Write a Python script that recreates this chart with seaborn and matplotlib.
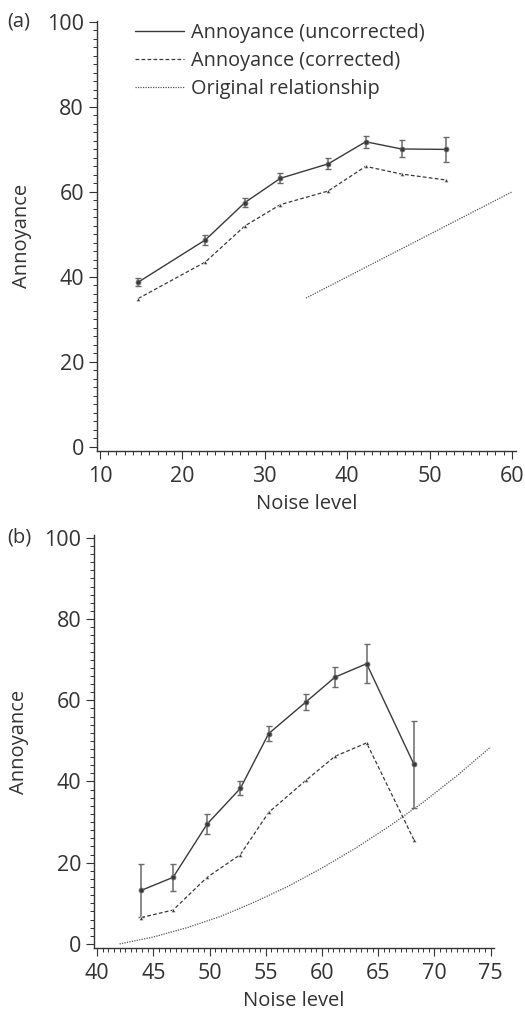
import numpy as np
import pandas as pd
import matplotlib
matplotlib.use("Agg")
import matplotlib.pyplot as plt
from matplotlib.lines import Line2D
from matplotlib.ticker import MultipleLocator
import seaborn as sns

# panel (a)
a_noise = [14.65, 22.8, 27.6, 31.9, 37.7, 42.25, 46.6, 52.0]
a_uncorr = [38.75, 48.7, 57.5, 63.2, 66.6, 71.8, 70.1, 70.0]
a_uncorr_err = [0.9, 1.2, 1.0, 1.2, 1.3, 1.4, 2.0, 3.0]
a_corr = [34.9, 43.5, 52.0, 57.0, 60.2, 66.0, 64.2, 62.8]
a_orig_x = [35, 60]
a_orig_y = [35, 60]

# panel (b)
b_noise = [43.94, 46.76, 49.78, 52.74, 55.26, 58.58, 61.16, 63.97, 68.18]
b_uncorr = [13.2, 16.4, 29.5, 38.3, 51.8, 59.6, 65.7, 69.0, 44.2]
b_uncorr_err = [6.5, 3.3, 2.5, 1.7, 1.8, 2.0, 2.5, 4.8, 10.7]
b_corr = [6.5, 8.35, 16.4, 22.0, 32.4, 40.3, 46.2, 49.5, 25.6]
b_orig_x = [42, 45, 48, 51, 54, 57, 60, 63, 66, 69, 72, 75]
b_orig_y = [0, 1.7, 4.0, 6.8, 10.3, 14.2, 18.7, 23.6, 29.0, 34.9, 41.4, 48.5]

legend_labels = ["Annoyance (uncorrected)", "Annoyance (corrected)", "Original relationship"]

sns.set_style("ticks")
plt.rcParams["font.family"] = ["Open Sans", "DejaVu Sans"]
ink = "#333333"
plt.rcParams.update({
    "text.color": ink, "axes.labelcolor": ink, "xtick.color": ink, "ytick.color": ink,
    "axes.edgecolor": ink, "font.size": 14,
})

DASHED = (0, (3, 1.8))
DOTTED = (0, (1, 1))


def draw_panel(ax, noise, uncorr, err, corr, ox, oy):
    ax.errorbar(noise, uncorr, yerr=err, fmt="none", ecolor="#6a6a6a",
                elinewidth=1.1, capsize=2, capthick=1, zorder=2)
    sns.lineplot(x=noise, y=uncorr, ax=ax, color="#3a3a3a", linewidth=1.0,
                 marker="o", markersize=3.5, markeredgecolor="#6a6a6a",
                 markeredgewidth=0.6, zorder=3)
    sns.lineplot(x=noise, y=corr, ax=ax, color="#3a3a3a", linewidth=0.9,
                 linestyle=DASHED, marker="^", markersize=3, markeredgewidth=0.4,
                 zorder=3)
    sns.lineplot(x=ox, y=oy, ax=ax, color="#555555", linewidth=0.9,
                 linestyle=DOTTED, zorder=1)
    sns.despine(ax=ax)
    ax.set_ylabel("Annoyance", fontsize=14.5, labelpad=11)
    ax.set_xlabel("Noise level", fontsize=14.5, labelpad=5)
    ax.yaxis.set_major_locator(MultipleLocator(20))
    ax.yaxis.set_minor_locator(MultipleLocator(2))
    ax.tick_params(which="major", length=5.5, width=0.8, labelsize=15.5)
    ax.tick_params(axis="x", which="major", pad=5)
    ax.tick_params(axis="y", which="major", pad=3.5)
    ax.tick_params(which="minor", length=3, width=0.7)
    for s in ax.spines.values():
        s.set_linewidth(1.0)


fig = plt.figure(figsize=(5.25, 10.14), dpi=100)
ax1 = fig.add_axes([0.184, 0.5552, 0.983 - 0.184, 0.9796 - 0.5552])
ax2 = fig.add_axes([0.1785, 0.0651, 0.941 - 0.1785, 0.4724 - 0.0651])

draw_panel(ax1, a_noise, a_uncorr, a_uncorr_err, a_corr, a_orig_x, a_orig_y)
ax1.set_xlim(9.6, 60.5)
ax1.set_ylim(-1, 100.3)
ax1.xaxis.set_major_locator(MultipleLocator(10))
ax1.xaxis.set_minor_locator(MultipleLocator(1))

draw_panel(ax2, b_noise, b_uncorr, b_uncorr_err, b_corr, b_orig_x, b_orig_y)
ax2.set_xlim(39.7, 75.3)
ax2.set_ylim(-1, 100.7)
ax2.xaxis.set_major_locator(MultipleLocator(5))
ax2.xaxis.set_minor_locator(MultipleLocator(0.5))

handles = [
    Line2D([], [], color="#3a3a3a", linewidth=1.0),
    Line2D([], [], color="#3a3a3a", linewidth=0.9, linestyle=DASHED),
    Line2D([], [], color="#555555", linewidth=0.9, linestyle=DOTTED),
]
ax1.legend(handles, legend_labels, loc="upper left", bbox_to_anchor=(0.072, 1.0137),
           frameon=False, fontsize=14.3, handlelength=2.5, handletextpad=0.35,
           labelspacing=0.4, borderaxespad=0)

fig.text(7 / 525, 1 - 21 / 1014, "(a)", fontsize=14.5, va="center", ha="left")
fig.text(7 / 525, 1 - 537 / 1014, "(b)", fontsize=14.5, va="center", ha="left")

fig.savefig("out.png", dpi=100)
